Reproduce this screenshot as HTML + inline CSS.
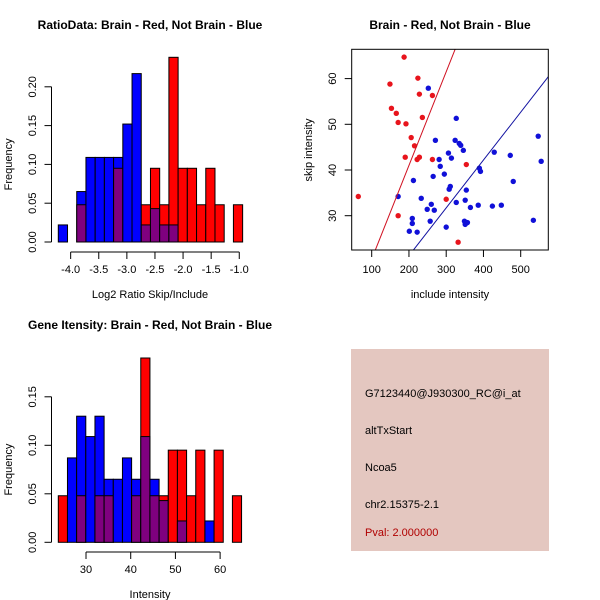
<!DOCTYPE html>
<html><head><meta charset="utf-8"><style>
body{margin:0;background:#fff;}
svg{display:block;font-family:"Liberation Sans",sans-serif;}
</style></head><body>
<svg id="chart" width="600" height="600" viewBox="0 0 600 600">
<rect width="600" height="600" fill="#fff"/>
<text x="150" y="29" font-size="12" font-weight="bold" text-anchor="middle">RatioData: Brain - Red, Not Brain - Blue</text>
<text x="450" y="29" font-size="12" font-weight="bold" text-anchor="middle">Brain - Red, Not Brain - Blue</text>
<text x="150" y="329" font-size="12" font-weight="bold" text-anchor="middle">Gene Itensity: Brain - Red, Not Brain - Blue</text>
<g id="h1"></g>
<g id="h2"></g>
<g id="sc"></g>
<g font-size="11">
<rect x="351" y="349" width="198" height="202" fill="#e4c7c0"/>
<text x="365" y="397">G7123440@J930300_RC@i_at</text>
<text x="365" y="434">altTxStart</text>
<text x="365" y="471">Ncoa5</text>
<text x="365" y="508">chr2.15375-2.1</text>
<text x="365" y="536" fill="#b00000">Pval: 2.000000</text>
</g>
</svg>
<script>
// Ratio histogram data
const ratioStart = -4.22;
const ratioBinWidth = 0.164;
const ratioBlue = [0.022,0,0.065,0.109,0.109,0.109,0.109,0.152,0.217,0.022,0.043,0.022,0.022,0,0,0,0,0,0,0];
const ratioRed  = [0,0,0.048,0,0,0,0.095,0,0,0.048,0.095,0.048,0.238,0.095,0.095,0.048,0.095,0.048,0,0.048];
const ratioXTicks = [-4.0,-3.5,-3.0,-2.5,-2.0,-1.5,-1.0];
const ratioYTicks = [0,0.05,0.10,0.15,0.20];
// Intensity histogram data
const intStart = 23.8;
const intBinWidth = 2.05;
const intBlue = [0,0.087,0.13,0.109,0.13,0.065,0.065,0.087,0.065,0.109,0.065,0.043,0,0.022,0,0,0.022,0,0,0];
const intRed  = [0.048,0,0.048,0,0.048,0.048,0,0,0.048,0.19,0.048,0.048,0.095,0.095,0.048,0.095,0,0.095,0,0.048];
const intXTicks = [30,40,50,60];
const intYTicks = [0,0.05,0.10,0.15];
// Scatter data
const redX = [64,149,153,166,171,187,192,190,171,206,215,224,228,236,222,228,263,263,300,332,354];
const redY = [34.2,58.8,53.5,52.4,50.4,64.7,50.1,42.8,30.0,47.1,45.3,60.1,56.6,51.5,42.3,42.8,56.3,42.3,33.6,24.2,41.2];
const blueX = [252,327,271,324,335,339,346,306,314,281,284,212,265,295,311,308,354,171,233,327,351,365,386,249,260,268,209,209,257,201,222,300,349,351,357,424,448,429,472,480,389,392,547,555,534];
const blueY = [57.9,51.3,46.5,46.5,45.8,45.4,44.3,43.7,42.6,42.3,40.8,37.7,38.6,39.1,36.4,35.8,35.6,34.2,33.8,32.9,33.4,31.8,32.3,31.4,32.5,31.2,29.4,28.3,28.8,26.6,26.4,27.5,28.8,28.1,28.5,32.1,32.3,43.9,43.2,37.5,40.4,39.7,47.4,41.9,29.0];
const redLine = [0, 0.205];   // intercept, slope
const blueLine = [0.3, 0.1047];
const scXTicks = [100,200,300,400,500];
const scYTicks = [30,40,50,60];

const NS = "http://www.w3.org/2000/svg";
function mk(parent, tag, attrs){const e=document.createElementNS(NS,tag);for(const k in attrs)e.setAttribute(k,attrs[k]);parent.appendChild(e);return e;}

function hist(g, opt){
  const {start,bw,blue,red,xTicks,yTicks,x0,xPerUnit,y0,yPerUnit,axisY,xlabel,ylabel} = opt;
  const X = v => x0 + (v-start)*xPerUnit;
  const Y = v => y0 - v*yPerUnit;
  for(let i=0;i<blue.length;i++){
    const xa=X(start+i*bw), xb=X(start+(i+1)*bw);
    const b=blue[i], r=red[i];
    const mx=Math.max(b,r), mn=Math.min(b,r);
    if(mx>0){
      const bar=mk(g,'rect',{x:xa,y:Y(mx),width:xb-xa,height:Y(0)-Y(mx),fill:(r>=b?'#ff0000':'#0000ff'),stroke:'#000','stroke-width':1});
      
      
    }
    if(mn>0){
      const ov=mk(g,'rect',{x:xa,y:Y(mn),width:xb-xa,height:Y(0)-Y(mn),fill:'#7f007f',stroke:'#000','stroke-width':1});
      
      
    }
  }
  // x axis
  const xa=X(xTicks[0]), xb=X(xTicks[xTicks.length-1]);
  mk(g,'line',{x1:xa,x2:xb,y1:axisY,y2:axisY,stroke:'#000'});
  xTicks.forEach(t=>{
    mk(g,'line',{x1:X(t),x2:X(t),y1:axisY,y2:axisY+7,stroke:'#000'});
    const tx=mk(g,'text',{x:X(t),y:axisY+21,'font-size':11,'text-anchor':'middle'});
    tx.textContent=t.toFixed(opt.xDec);
    
    
  });
  // y axis
  const ax=51.5;
  mk(g,'line',{x1:ax,x2:ax,y1:Y(yTicks[0]),y2:Y(yTicks[yTicks.length-1]),stroke:'#000'});
  yTicks.forEach(t=>{
    mk(g,'line',{x1:ax-7,x2:ax,y1:Y(t),y2:Y(t),stroke:'#000'});
    const tx=mk(g,'text',{x:0,y:0,'font-size':11,'text-anchor':'middle',transform:`translate(36,${Y(t)}) rotate(-90)`});
    tx.textContent=t.toFixed(2);
    
    
  });
  const xl=mk(g,'text',{x:150,y:axisY+46,'font-size':11,'text-anchor':'middle'});
  xl.textContent=xlabel;
  
  
  const yl=mk(g,'text',{x:0,y:0,'font-size':11,'text-anchor':'middle',transform:`translate(12,${(Y(0)+Y(yTicks[yTicks.length-1]))/2}) rotate(-90)`});
  yl.textContent=ylabel;
  
  
}

hist(document.getElementById('h1'),{start:ratioStart,bw:ratioBinWidth,blue:ratioBlue,red:ratioRed,xTicks:ratioXTicks,yTicks:ratioYTicks,
  x0:58.3,xPerUnit:56.2,y0:242,yPerUnit:776,axisY:252,xlabel:'Log2 Ratio Skip/Include',ylabel:'Frequency',xDec:1});
hist(document.getElementById('h2'),{start:intStart,bw:intBinWidth,blue:intBlue,red:intRed,xTicks:intXTicks,yTicks:intYTicks,
  x0:58.3,xPerUnit:4.47,y0:542.3,yPerUnit:970,axisY:552,xlabel:'Intensity',ylabel:'Frequency',xDec:0});

// scatter
(function(){
  const g=document.getElementById('sc');
  const L=351.7,R=548.3,T=49.3,B=250;
  const X=v=>371.7+(v-100)*0.3725;
  const Y=v=>215.7-(v-30)*4.57;
  const clip=mk(g,'clipPath',{id:'scclip'});
  mk(clip,'rect',{x:L,y:T,width:R-L,height:B-T});
  redX.forEach((x,i)=>{
    const c=mk(g,'circle',{cx:X(x),cy:Y(redY[i]),r:2.7,fill:'#e8141c'});
    
    
  });
  blueX.forEach((x,i)=>{
    const c=mk(g,'circle',{cx:X(x),cy:Y(blueY[i]),r:2.7,fill:'#1010d8'});
    
    
  });
  const xs=[0,700];
  const rl=mk(g,'line',{x1:X(xs[0]),y1:Y(redLine[0]+redLine[1]*xs[0]),x2:X(xs[1]),y2:Y(redLine[0]+redLine[1]*xs[1]),stroke:'#d01020','clip-path':'url(#scclip)'});
  
  
  const bl=mk(g,'line',{x1:X(xs[0]),y1:Y(blueLine[0]+blueLine[1]*xs[0]),x2:X(xs[1]),y2:Y(blueLine[0]+blueLine[1]*xs[1]),stroke:'#1010a0','clip-path':'url(#scclip)'});
  
  
  mk(g,'rect',{x:L,y:T,width:R-L,height:B-T,fill:'none',stroke:'#000'});
  scXTicks.forEach(t=>{
    mk(g,'line',{x1:X(t),x2:X(t),y1:B,y2:B+7,stroke:'#000'});
    const tx=mk(g,'text',{x:X(t),y:B+23,'font-size':11,'text-anchor':'middle'});
    tx.textContent=t;
    
    
  });
  scYTicks.forEach(t=>{
    mk(g,'line',{x1:L-7,x2:L,y1:Y(t),y2:Y(t),stroke:'#000'});
    const tx=mk(g,'text',{x:0,y:0,'font-size':11,'text-anchor':'middle',transform:`translate(336,${Y(t)}) rotate(-90)`});
    tx.textContent=t;
    
    
  });
  const xl=mk(g,'text',{x:450,y:298,'font-size':11,'text-anchor':'middle'});
  xl.textContent='include intensity';
  
  
  const yl=mk(g,'text',{x:0,y:0,'font-size':11,'text-anchor':'middle',transform:'translate(312,150) rotate(-90)'});
  yl.textContent='skip intensity';
  
  
})();
</script>
</body></html>
